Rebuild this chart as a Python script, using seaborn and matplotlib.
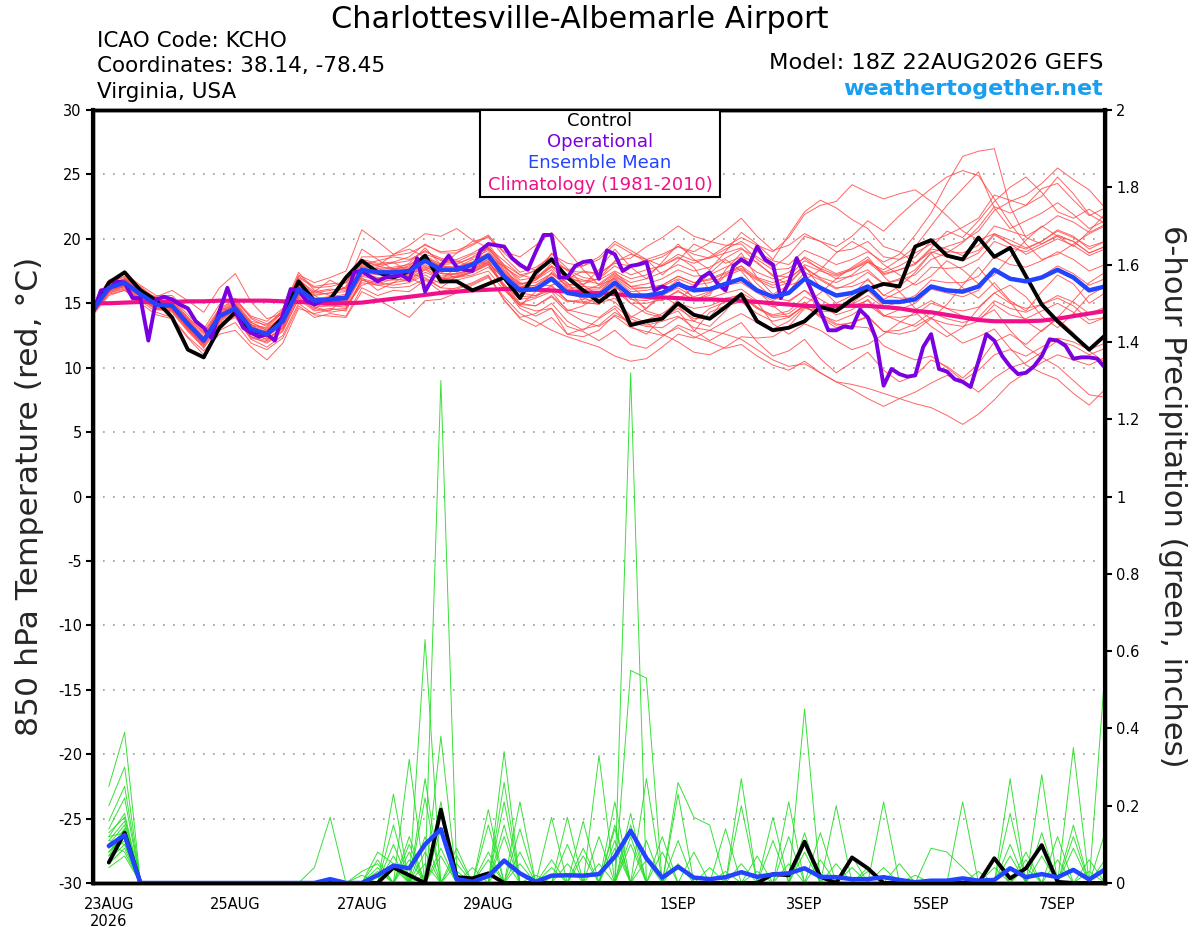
import numpy as np
import pandas as pd
import matplotlib
matplotlib.use("Agg")
import matplotlib.pyplot as plt
import seaborn as sns
from matplotlib.patches import Rectangle

# ---------------- data ----------------
t_start = "2026-08-22 18:00"
p_start = "2026-08-23 00:00"

ens_mean = [14.5, 16.2, 16.6, 15.7, 14.9, 14.8, 13.4, 12.1, 14.0, 14.6, 13.0, 12.6, 13.6,
            16.1, 15.2, 15.3, 15.4, 17.6, 17.4, 17.4, 17.5, 18.3, 17.6, 17.6, 18.0, 18.7,
            17.1, 16.0, 16.1, 16.9, 15.8, 15.6, 15.6, 16.6, 15.6, 15.6, 15.8, 16.5, 16.0,
            16.1, 16.5, 16.9, 16.0, 15.5, 15.8, 16.9, 16.2, 15.6, 15.8, 16.3, 15.1, 15.1,
            15.3, 16.3, 16.0, 15.9, 16.3, 17.6, 16.9, 16.7, 17.0, 17.6, 17.0, 16.0, 16.3]

control = [14.4, 16.6, 17.4, 16.0, 15.2, 13.9, 11.4, 10.8, 13.1, 14.3, 12.9, 12.6, 13.9,
           16.7, 15.2, 15.3, 17.0, 18.3, 17.4, 17.0, 17.5, 18.7, 16.7, 16.7, 16.0, 16.5,
           17.0, 15.4, 17.4, 18.4, 17.0, 16.0, 15.1, 16.0, 13.3, 13.6, 13.8, 15.0, 14.1,
           13.8, 14.7, 15.7, 13.6, 12.9, 13.1, 13.6, 14.7, 14.4, 15.3, 16.1, 16.5, 16.3,
           19.4, 19.9, 18.7, 18.4, 20.1, 18.6, 19.3, 17.1, 14.9, 13.6, 12.5, 11.4, 12.5]

# operational run, 3-hourly
operational = [14.3, 16.0, 16.1, 16.7, 16.6, 15.4, 15.4, 12.1, 15.3, 15.5, 15.3, 14.9, 14.6,
               13.6, 13.1, 12.3, 14.4, 16.2, 14.4, 13.1, 12.7, 12.4, 12.6, 12.1, 14.1, 16.1,
               16.0, 15.2, 14.9, 15.2, 15.3, 15.4, 15.4, 17.4, 17.5, 17.1, 16.7, 17.0, 17.1,
               17.2, 16.8, 18.5, 15.9, 17.0, 17.9, 18.7, 17.8, 17.6, 17.5, 19.1, 19.6, 19.5,
               19.4, 18.5, 18.0, 17.6, 19.0, 20.3, 20.3, 17.0, 17.0, 17.9, 18.2, 18.3, 16.9,
               19.1, 18.8, 17.5, 17.9, 18.0, 18.2, 16.0, 16.3, 16.1, 16.5, 16.2, 16.2, 17.0,
               17.4, 16.5, 16.0, 17.9, 18.4, 18.0, 19.4, 18.4, 18.0, 15.4, 16.6, 18.5, 17.2,
               15.8, 14.4, 12.9, 12.9, 13.2, 13.1, 14.5, 13.9, 12.3, 8.6, 9.9, 9.5, 9.3,
               9.4, 11.6, 12.6, 9.9, 9.7, 9.1, 8.9, 8.5, 10.5, 12.6, 12.1, 10.9, 10.1,
               9.5, 9.6, 10.1, 10.9, 12.2, 12.1, 11.7, 10.7, 10.8, 10.8, 10.7, 10.0]

climatology = [15.0, 15.0, 15.05, 15.1, 15.1, 15.1, 15.15, 15.15, 15.2, 15.2, 15.2, 15.2, 15.15,
               15.1, 15.05, 15.0, 15.0, 15.05, 15.2, 15.35, 15.5, 15.65, 15.8, 15.9, 16.0, 16.05,
               16.1, 16.1, 16.05, 16.0, 15.9, 15.85, 15.8, 15.7, 15.6, 15.5, 15.45, 15.4, 15.3,
               15.3, 15.25, 15.2, 15.1, 15.0, 14.9, 14.8, 14.75, 14.8, 14.8, 14.8, 14.7, 14.6,
               14.4, 14.3, 14.1, 13.9, 13.7, 13.6, 13.6, 13.6, 13.65, 13.8, 14.0, 14.2, 14.4]

t_m01 = [14.8, 16.5, 16.9, 16.0, 15.3, 15.2, 13.8, 12.4, 14.3, 15.0, 13.5, 13.0, 14.0,
         16.5, 15.8, 16.0, 16.2, 18.0, 18.3, 18.6, 18.4, 19.0, 18.5, 18.2, 18.8, 19.2,
         18.0, 17.2, 17.5, 18.3, 17.6, 17.0, 16.8, 17.5, 16.9, 17.2, 18.0, 18.8, 18.3,
         18.5, 19.2, 19.8, 19.0, 18.3, 18.0, 19.1, 18.6, 18.0, 18.4, 19.0, 18.2, 18.8,
         20.3, 22.0, 24.3, 26.4, 26.8, 27.0, 22.5, 20.1, 19.6, 20.2, 19.8, 18.9, 19.4]
t_m02 = [14.2, 15.9, 16.3, 15.5, 14.6, 14.3, 12.8, 11.6, 13.4, 14.1, 12.4, 11.9, 12.8,
         15.4, 14.6, 14.3, 14.5, 16.8, 16.5, 16.9, 16.7, 17.4, 16.9, 17.0, 17.2, 17.8,
         16.5, 15.0, 14.8, 15.5, 14.3, 13.6, 13.2, 14.0, 13.1, 12.8, 12.5, 13.1, 12.4,
         12.0, 11.5, 11.8, 10.9, 10.2, 9.8, 10.5, 9.6, 8.9, 8.7, 8.4, 8.0, 7.6,
         7.2, 6.9, 6.3, 5.6, 6.4, 7.5, 8.8, 9.6, 10.4, 11.0, 10.6, 10.2, 10.8]
t_m03 = [14.6, 16.4, 16.8, 15.9, 15.0, 15.0, 13.7, 12.3, 14.4, 15.1, 13.6, 13.3, 14.4,
         17.0, 16.2, 16.3, 16.6, 18.4, 18.1, 18.2, 18.6, 19.6, 18.9, 18.9, 19.5, 20.2,
         18.6, 17.4, 17.8, 18.6, 17.5, 17.4, 17.3, 18.1, 17.9, 18.4, 18.8, 19.4, 19.0,
         19.7, 20.6, 21.6, 20.2, 19.1, 19.5, 20.4, 19.8, 19.0, 19.2, 19.8, 18.6, 18.4,
         18.9, 19.6, 19.2, 18.7, 19.1, 20.4, 19.9, 19.3, 19.8, 20.6, 20.1, 19.4, 19.8]
t_m04 = [14.4, 16.0, 16.4, 15.6, 14.8, 14.6, 13.2, 11.9, 13.8, 14.4, 12.8, 12.4, 13.3,
         15.7, 15.0, 15.1, 15.0, 17.2, 16.9, 17.0, 17.1, 17.8, 17.3, 17.2, 17.6, 18.2,
         16.8, 15.5, 15.6, 16.4, 15.2, 15.1, 15.4, 16.3, 15.3, 15.2, 15.6, 16.2, 15.5,
         15.9, 16.4, 16.6, 15.8, 15.2, 15.9, 17.4, 16.8, 16.1, 16.6, 17.4, 16.5, 16.9,
         17.6, 18.9, 19.4, 19.8, 20.6, 22.2, 22.9, 23.4, 24.3, 25.5, 24.6, 23.8, 22.4]
t_m05 = [14.3, 15.8, 16.2, 15.3, 14.5, 14.4, 12.9, 11.7, 13.5, 14.0, 12.3, 12.0, 12.9,
         15.3, 14.4, 14.6, 14.4, 16.9, 16.6, 16.4, 16.6, 17.2, 16.5, 16.8, 17.1, 17.5,
         16.0, 14.9, 14.8, 15.6, 14.5, 14.2, 13.9, 14.8, 13.8, 13.3, 13.6, 14.0, 13.1,
         12.9, 12.6, 12.2, 11.4, 10.6, 10.1, 10.3, 9.6, 8.9, 8.3, 7.6, 7.0, 7.6,
         8.1, 8.8, 9.4, 9.0, 9.8, 11.0, 11.4, 10.9, 11.6, 12.3, 12.0, 11.4, 11.9]
t_m06 = [14.7, 16.6, 17.1, 16.1, 15.4, 15.3, 13.9, 12.6, 14.5, 15.2, 13.9, 13.4, 14.2,
         16.8, 15.9, 16.1, 16.0, 18.2, 18.0, 18.1, 18.3, 19.1, 18.3, 18.4, 18.9, 19.6,
         17.9, 16.8, 17.0, 17.9, 16.9, 16.7, 16.9, 17.9, 17.2, 17.6, 17.9, 18.5, 18.1,
         18.6, 19.4, 20.1, 19.5, 19.0, 20.1, 21.9, 22.6, 22.9, 24.2, 23.6, 23.1, 23.5,
         23.8, 22.9, 21.8, 20.6, 19.9, 20.4, 19.6, 18.8, 19.4, 20.0, 19.5, 18.7, 19.2]
t_m07 = [14.5, 16.1, 16.5, 15.6, 14.7, 14.6, 13.1, 11.8, 13.7, 14.3, 12.7, 12.2, 13.1,
         15.8, 14.8, 15.0, 15.1, 17.3, 17.0, 16.9, 17.2, 17.9, 17.1, 17.3, 17.6, 18.3,
         16.2, 14.6, 14.0, 14.6, 13.2, 12.8, 12.1, 12.9, 11.8, 11.5, 12.4, 13.3, 12.8,
         14.3, 14.8, 15.1, 14.2, 13.6, 13.9, 14.8, 13.9, 13.1, 13.5, 14.0, 12.8, 12.6,
         12.9, 13.8, 13.4, 13.2, 13.6, 14.9, 14.1, 13.8, 14.4, 15.0, 14.3, 13.4, 13.9]
t_m08 = [14.6, 16.3, 16.8, 15.8, 15.1, 15.0, 13.6, 12.2, 14.2, 14.9, 13.3, 12.9, 14.1,
         17.2, 16.6, 17.0, 17.5, 20.7, 19.8, 18.8, 19.5, 20.4, 20.2, 20.8, 19.9, 19.3,
         18.3, 17.2, 16.9, 17.8, 16.5, 16.3, 16.2, 17.2, 16.3, 16.5, 16.9, 17.6, 17.1,
         17.2, 17.8, 18.3, 17.4, 16.9, 17.4, 18.6, 17.9, 17.3, 17.7, 18.4, 17.3, 17.6,
         18.1, 19.0, 18.6, 18.3, 18.9, 20.3, 19.6, 19.2, 19.8, 20.7, 20.2, 19.2, 19.8]
t_m09 = [14.3, 15.9, 16.4, 15.5, 14.7, 14.5, 13.0, 11.5, 13.3, 13.9, 12.2, 11.6, 12.5,
         15.0, 14.1, 14.0, 13.9, 15.9, 15.3, 14.6, 13.9, 15.2, 15.3, 15.8, 16.4, 17.0,
         15.5, 14.2, 13.6, 12.9, 12.4, 12.0, 11.6, 10.9, 10.5, 10.7, 11.6, 12.6, 12.3,
         12.9, 13.6, 14.2, 13.5, 13.0, 13.6, 14.7, 14.1, 13.6, 14.1, 14.9, 14.0, 14.5,
         15.0, 16.1, 15.8, 15.5, 16.0, 17.5, 17.0, 16.6, 17.1, 17.9, 17.3, 16.4, 16.9]
t_m10 = [14.6, 16.4, 16.7, 15.9, 15.5, 16.0, 15.2, 14.3, 16.2, 17.3, 15.1, 13.8, 14.2,
         16.4, 15.6, 15.8, 15.9, 17.8, 17.7, 17.8, 18.0, 18.7, 18.0, 18.1, 18.5, 19.1,
         17.5, 16.5, 16.6, 17.3, 16.3, 16.1, 16.1, 17.0, 16.1, 16.2, 16.4, 17.1, 16.6,
         16.8, 17.3, 17.7, 16.9, 16.4, 16.8, 18.0, 17.5, 17.1, 17.6, 18.3, 17.4, 17.9,
         18.6, 19.8, 20.3, 20.9, 21.6, 23.4, 23.0, 22.6, 23.3, 24.8, 23.5, 21.9, 21.2]
t_m11 = [14.2, 15.8, 16.1, 15.2, 14.3, 13.9, 12.4, 11.3, 12.6, 12.9, 11.6, 10.6, 11.9,
         14.6, 14.2, 14.5, 14.6, 16.6, 16.4, 16.6, 16.8, 17.6, 16.9, 17.0, 17.4, 18.0,
         16.4, 15.3, 15.5, 16.3, 15.2, 15.0, 15.0, 16.0, 15.0, 15.0, 15.3, 15.9, 15.3,
         15.4, 15.8, 16.1, 15.2, 14.7, 15.1, 16.0, 15.3, 14.6, 14.8, 15.2, 14.0, 13.9,
         14.1, 15.0, 14.6, 14.4, 14.7, 15.8, 15.0, 14.6, 14.9, 15.4, 14.8, 13.7, 13.9]
t_m12 = [14.5, 16.2, 16.6, 15.7, 14.9, 14.7, 13.3, 12.0, 13.9, 14.5, 12.9, 12.5, 13.5,
         16.0, 15.1, 15.2, 15.3, 17.5, 17.3, 17.3, 17.4, 18.2, 17.5, 17.5, 17.9, 18.6,
         17.3, 16.4, 16.9, 18.1, 17.6, 17.9, 18.6, 19.8, 19.1, 18.4, 17.9, 18.6, 17.8,
         16.0, 16.4, 16.8, 15.9, 15.4, 15.7, 16.8, 16.1, 15.5, 15.7, 16.0, 14.8, 14.6,
         14.5, 15.2, 14.6, 14.0, 13.8, 14.5, 12.9, 11.6, 10.8, 10.1, 9.0, 7.9, 7.7]
t_m13 = [14.7, 16.5, 16.9, 16.0, 15.2, 15.1, 13.7, 12.3, 14.1, 14.8, 13.2, 12.8, 13.8,
         16.3, 15.4, 15.5, 15.7, 17.9, 17.6, 17.7, 17.8, 18.6, 17.9, 17.8, 18.2, 18.9,
         17.4, 16.3, 16.4, 17.1, 16.1, 15.8, 15.9, 16.9, 15.9, 16.0, 16.3, 16.9, 16.4,
         16.6, 17.1, 17.6, 16.8, 16.2, 16.6, 17.7, 17.0, 16.6, 17.2, 18.2, 17.6, 18.4,
         19.4, 21.0, 22.6, 23.9, 25.2, 22.4, 20.8, 21.4, 22.0, 22.8, 21.9, 20.8, 21.4]
t_m14 = [14.4, 16.0, 16.5, 15.6, 14.8, 14.6, 13.2, 11.9, 13.8, 14.4, 12.8, 12.4, 13.4,
         15.9, 15.0, 15.1, 15.2, 17.4, 17.2, 17.1, 17.3, 18.0, 17.3, 17.3, 17.7, 18.4,
         16.2, 14.8, 14.4, 14.6, 12.6, 13.0, 13.3, 14.3, 13.5, 13.7, 14.2, 15.0, 14.6,
         14.8, 15.3, 15.7, 14.7, 14.0, 14.2, 15.1, 14.2, 13.4, 13.2, 13.1, 11.7, 11.1,
         10.6, 10.9, 10.0, 9.0, 8.1, 9.2, 10.0, 10.4, 11.2, 12.1, 11.7, 11.0, 11.5]
t_m15 = [14.6, 16.3, 16.7, 15.8, 15.0, 14.9, 13.5, 12.2, 14.1, 14.7, 13.1, 12.7, 13.7,
         16.2, 15.3, 15.4, 15.5, 17.7, 17.5, 17.5, 17.6, 18.4, 17.7, 17.7, 18.1, 18.8,
         17.2, 16.2, 16.4, 17.3, 16.4, 16.5, 16.9, 18.3, 18.5, 19.4, 20.1, 21.0, 20.2,
         19.8, 19.5, 19.6, 18.4, 17.6, 17.7, 18.5, 17.6, 16.9, 17.1, 17.6, 16.5, 16.8,
         17.2, 18.4, 18.9, 19.7, 20.9, 22.5, 22.0, 22.6, 23.9, 24.3, 23.0, 21.8, 22.4]
t_m16 = [14.3, 15.9, 16.3, 15.4, 14.6, 14.5, 13.0, 11.8, 13.6, 14.2, 12.6, 12.2, 13.1,
         15.6, 14.7, 14.8, 14.9, 17.1, 16.8, 16.8, 16.9, 17.7, 17.0, 17.1, 17.5, 18.1,
         16.9, 16.2, 16.8, 17.9, 17.2, 16.4, 15.6, 16.4, 15.0, 14.2, 13.9, 14.6, 13.8,
         13.9, 15.4, 15.6, 14.6, 13.9, 14.0, 14.8, 14.0, 13.3, 13.5, 13.9, 12.8, 12.9,
         13.4, 14.3, 13.8, 13.5, 13.9, 15.2, 14.6, 14.3, 14.9, 15.6, 15.1, 14.2, 14.7]
t_m17 = [14.8, 16.7, 17.0, 16.2, 15.4, 15.4, 14.1, 12.8, 14.6, 15.3, 14.0, 13.6, 14.6,
         17.1, 16.3, 16.5, 16.6, 18.6, 18.6, 18.7, 18.9, 19.5, 19.0, 19.1, 19.6, 20.3,
         18.9, 17.8, 17.6, 18.4, 17.2, 16.8, 16.5, 17.4, 16.3, 16.2, 16.4, 17.1, 16.6,
         16.9, 17.4, 17.9, 17.0, 16.6, 17.1, 18.3, 17.7, 17.2, 17.6, 18.2, 17.2, 17.6,
         18.0, 19.2, 19.0, 18.9, 19.5, 21.0, 20.6, 20.2, 20.9, 21.8, 21.3, 20.5, 21.1]
t_m18 = [14.4, 16.1, 16.5, 15.6, 14.8, 14.7, 13.3, 12.0, 13.9, 14.5, 12.9, 12.4, 13.4,
         15.9, 14.9, 14.8, 14.7, 16.8, 16.4, 16.2, 16.3, 16.9, 16.2, 16.1, 16.5, 17.1,
         15.3, 13.8, 13.2, 13.9, 12.6, 12.4, 12.9, 14.1, 13.5, 13.2, 13.1, 13.9, 13.6,
         14.6, 15.1, 15.5, 14.6, 14.1, 14.4, 15.5, 14.9, 14.5, 14.9, 15.6, 14.7, 15.1,
         15.6, 16.8, 16.6, 16.6, 17.1, 18.6, 18.0, 17.8, 18.3, 19.0, 18.4, 17.5, 18.0]
t_m19 = [14.5, 16.2, 16.6, 15.7, 14.9, 14.8, 13.4, 12.1, 14.0, 14.6, 13.0, 12.6, 13.6,
         16.1, 15.2, 15.3, 15.4, 17.6, 17.4, 17.4, 17.5, 18.3, 17.6, 17.6, 18.0, 18.7,
         17.1, 16.0, 16.1, 16.9, 15.8, 15.4, 15.0, 15.4, 14.0, 13.5, 12.6, 12.0, 11.2,
         11.0, 11.6, 12.4, 12.3, 12.4, 13.2, 14.6, 14.4, 14.3, 15.0, 16.0, 15.3, 15.9,
         16.6, 17.8, 17.7, 17.8, 18.4, 19.8, 19.3, 19.0, 19.6, 20.3, 19.8, 18.9, 19.4]
t_m20 = [14.6, 16.3, 16.7, 15.8, 15.0, 14.9, 13.5, 12.2, 14.1, 14.7, 13.1, 12.7, 13.7,
         16.3, 15.3, 15.4, 15.6, 17.7, 17.5, 17.6, 17.7, 18.5, 17.8, 17.8, 18.2, 18.9,
         17.8, 17.0, 17.6, 18.8, 18.1, 17.9, 18.4, 19.6, 18.9, 18.2, 18.6, 19.4, 18.8,
         18.5, 18.9, 19.3, 18.1, 17.2, 17.0, 17.8, 16.9, 16.2, 16.3, 16.8, 15.6, 15.4,
         15.4, 16.4, 16.1, 16.0, 16.4, 17.7, 17.0, 16.8, 17.1, 17.7, 17.1, 16.1, 16.4]
t_m21 = [14.9, 16.8, 17.3, 16.4, 15.6, 15.6, 14.4, 13.0, 14.9, 15.4, 13.8, 13.2, 14.5,
         17.4, 16.0, 15.6, 16.3, 19.2, 18.4, 17.6, 18.1, 19.3, 18.0, 17.4, 17.9, 19.4,
         17.8, 16.1, 17.0, 18.9, 17.7, 16.4, 17.6, 19.2, 17.8, 16.9, 18.2, 19.6, 18.4,
         17.6, 19.0, 20.5, 19.6, 18.4, 20.3, 22.1, 23.0, 22.4, 21.5, 20.8, 19.4, 19.0,
         18.1, 19.3, 20.6, 20.1, 21.4, 22.9, 24.0, 24.8, 23.6, 22.1, 21.6, 22.3, 21.5]
t_m22 = [14.1, 15.6, 16.0, 15.0, 14.1, 13.8, 12.3, 11.0, 12.9, 13.5, 11.9, 11.4, 12.3,
         14.8, 13.9, 14.2, 14.0, 16.2, 15.6, 16.0, 15.9, 16.8, 15.9, 16.2, 16.6, 17.2,
         15.2, 13.9, 14.2, 15.0, 13.6, 12.9, 13.8, 14.6, 13.2, 12.6, 13.9, 14.4, 12.9,
         12.1, 12.8, 13.5, 12.0, 10.9, 11.3, 12.2, 10.7, 9.6, 10.4, 11.2, 9.8, 8.9,
         9.4, 10.6, 10.1, 9.2, 10.3, 12.0, 12.6, 11.8, 12.9, 13.8, 12.7, 11.3, 10.4]
t_m23 = [14.6, 16.2, 16.9, 16.2, 15.2, 14.7, 13.0, 11.8, 13.9, 14.9, 13.4, 12.3, 13.0,
         15.6, 15.9, 16.8, 16.1, 17.9, 17.9, 18.8, 19.2, 18.6, 17.8, 18.9, 19.8, 20.1,
         19.0, 18.6, 19.5, 20.5, 19.1, 17.6, 16.4, 16.9, 15.4, 14.6, 15.9, 16.8, 15.3,
         15.6, 17.6, 18.9, 17.0, 15.7, 16.4, 17.9, 16.2, 15.0, 15.6, 16.9, 15.6, 16.3,
         17.4, 18.9, 17.3, 16.2, 15.4, 16.6, 15.2, 14.4, 15.9, 17.2, 16.5, 15.0, 15.8]
t_m24 = [14.2, 15.7, 16.0, 15.4, 14.5, 14.9, 13.6, 12.4, 14.3, 14.3, 12.6, 12.9, 14.0,
         16.6, 14.7, 14.4, 15.6, 17.0, 16.0, 16.6, 17.3, 17.0, 16.2, 17.1, 17.4, 18.0,
         16.3, 14.8, 15.9, 17.4, 16.6, 15.1, 14.9, 16.2, 15.8, 14.4, 14.0, 15.3, 16.2,
         17.3, 18.4, 17.5, 16.0, 14.8, 13.9, 14.9, 15.8, 16.9, 17.8, 18.6, 17.1, 15.9,
         14.6, 13.8, 14.9, 16.4, 17.8, 16.3, 15.1, 13.6, 12.8, 13.9, 15.2, 16.6, 17.4]
t_m25 = [14.7, 16.4, 16.6, 15.5, 14.6, 14.4, 13.2, 12.0, 14.2, 14.8, 13.2, 12.6, 13.8,
         16.6, 15.0, 14.9, 15.2, 17.4, 16.9, 17.1, 17.6, 18.6, 17.4, 17.0, 17.4, 18.2,
         16.9, 15.8, 15.6, 16.0, 15.1, 15.3, 15.8, 17.1, 16.3, 15.4, 15.2, 16.0, 15.2,
         15.8, 17.2, 17.9, 16.5, 15.4, 15.2, 16.0, 14.9, 14.1, 14.5, 15.3, 14.1, 13.6,
         13.2, 13.9, 12.8, 11.9, 12.4, 13.0, 11.5, 10.2, 9.6, 9.1, 8.0, 7.1, 8.3]
t_m26 = [14.5, 16.0, 16.9, 16.3, 15.3, 14.6, 13.0, 12.3, 14.6, 14.4, 12.4, 12.1, 13.2,
         16.4, 15.6, 15.0, 15.3, 17.3, 17.8, 18.2, 17.4, 17.6, 18.1, 18.3, 17.8, 18.4,
         17.9, 16.6, 16.3, 16.4, 16.9, 17.5, 17.3, 18.2, 18.8, 18.4, 17.2, 18.3, 19.6,
         19.0, 18.1, 18.6, 18.2, 17.1, 16.4, 16.8, 17.6, 18.9, 19.8, 19.1, 18.0, 17.2,
         16.4, 17.1, 18.3, 17.6, 16.5, 17.2, 18.6, 19.9, 21.0, 20.2, 19.4, 20.6, 21.9]
t_m27 = [14.3, 16.1, 16.3, 15.2, 15.0, 15.1, 13.5, 12.0, 13.6, 14.7, 13.5, 12.9, 13.6,
         15.5, 14.5, 15.6, 14.8, 16.4, 16.8, 17.7, 17.0, 16.4, 16.8, 17.8, 18.4, 18.0,
         16.2, 15.0, 15.4, 15.9, 14.4, 14.8, 15.6, 15.1, 13.9, 14.6, 15.6, 14.8, 13.6,
         13.2, 14.4, 15.8, 15.1, 13.4, 12.6, 13.4, 12.9, 12.1, 11.4, 11.8, 12.6, 13.5,
         14.3, 13.2, 12.4, 13.1, 14.6, 15.8, 16.4, 15.5, 14.0, 13.1, 14.2, 15.6, 16.3]
t_m28 = [14.8, 16.6, 16.8, 15.9, 15.1, 15.0, 13.9, 12.7, 14.4, 14.9, 13.3, 13.1, 14.3,
         16.9, 15.7, 15.8, 16.2, 18.3, 17.9, 17.6, 17.9, 18.8, 18.4, 18.0, 18.6, 19.3,
         17.6, 16.5, 16.8, 17.6, 16.2, 16.0, 16.4, 17.3, 16.6, 16.9, 17.4, 18.0, 17.5,
         17.8, 18.5, 19.2, 18.6, 17.8, 18.7, 20.2, 19.8, 19.4, 20.2, 21.4, 20.6, 21.8,
         22.9, 23.9, 24.8, 25.3, 24.9, 23.1, 21.2, 19.6, 18.4, 18.8, 19.6, 20.4, 21.0]

# 6-hour precipitation (inches), 64 steps from 23AUG 00Z
p_mean = [0.096, 0.124, 0, 0, 0, 0, 0, 0, 0, 0, 0, 0, 0, 0, 0.01, 0,
          0, 0.02, 0.045, 0.038, 0.10, 0.139, 0.01, 0.003, 0.018, 0.058, 0.025, 0.003, 0.019, 0.02, 0.019, 0.023,
          0.068, 0.135, 0.064, 0.014, 0.042, 0.014, 0.01, 0.015, 0.028, 0.016, 0.022, 0.025, 0.038, 0.016, 0.015, 0.01,
          0.01, 0.015, 0.008, 0.002, 0.006, 0.006, 0.012, 0.006, 0.008, 0.038, 0.015, 0.023, 0.015, 0.034, 0.009, 0.035]
p_control = [0.053, 0.13, 0, 0, 0, 0, 0, 0, 0, 0, 0, 0, 0, 0, 0, 0,
             0, 0, 0.04, 0.02, 0, 0.19, 0.015, 0.012, 0.025, 0, 0, 0, 0, 0, 0, 0,
             0, 0, 0, 0, 0, 0, 0, 0, 0, 0, 0.023, 0.02, 0.107, 0.016, 0, 0.066,
             0.038, 0, 0, 0, 0, 0, 0, 0, 0.064, 0.012, 0.038, 0.098, 0.003, 0, 0, 0]

# ensemble members: {6-hour step index: amount}, all other steps are zero
p_m01 = {0: 0.25, 1: 0.39, 13: 0.04, 14: 0.17, 18: 0.23, 20: 0.08, 24: 0.06, 28: 0.04, 33: 0.12, 42: 0.11, 50: 0.05, 57: 0.07}
p_m02 = {0: 0.20, 1: 0.30, 16: 0.03, 17: 0.05, 19: 0.10, 23: 0.04, 29: 0.17, 34: 0.11, 43: 0.12, 55: 0.03, 61: 0.09}
p_m03 = {0: 0.16, 1: 0.25, 16: 0.02, 18: 0.15, 20: 0.27, 22: 0.05, 26: 0.14, 32: 0.15, 40: 0.20, 49: 0.04, 59: 0.13}
p_m04 = {0: 0.14, 1: 0.22, 17: 0.08, 18: 0.05, 21: 0.21, 27: 0.02, 33: 0.18, 41: 0.07, 51: 0.02, 61: 0.12}
p_m05 = {0: 0.12, 1: 0.18, 17: 0.06, 19: 0.12, 24: 0.19, 30: 0.07, 35: 0.08, 44: 0.45, 57: 0.10}
p_m06 = {0: 0.11, 1: 0.16, 17: 0.04, 19: 0.08, 21: 0.09, 25: 0.34, 31: 0.05, 36: 0.23, 44: 0.10, 56: 0.04, 63: 0.13}
p_m07 = {0: 0.10, 1: 0.15, 17: 0.03, 20: 0.12, 25: 0.15, 33: 0.15, 42: 0.17, 54: 0.21, 62: 0.06}
p_m08 = {0: 0.09, 1: 0.14, 18: 0.10, 20: 0.05, 25: 0.06, 31: 0.12, 36: 0.05, 45: 0.13, 58: 0.08}
p_m09 = {0: 0.08, 1: 0.13, 18: 0.07, 21: 0.18, 26: 0.21, 32: 0.14, 38: 0.04, 46: 0.20, 58: 0.06}
p_m10 = {0: 0.08, 1: 0.12, 18: 0.04, 21: 0.14, 26: 0.05, 32: 0.11, 39: 0.03, 47: 0.07, 59: 0.07}
p_m11 = {0: 0.07, 1: 0.11, 19: 0.32, 22: 0.09, 29: 0.10, 35: 0.12, 43: 0.05, 52: 0.09, 53: 0.08, 54: 0.04, 62: 0.03}
p_m12 = {0: 0.06, 1: 0.10, 19: 0.06, 24: 0.15, 30: 0.16, 36: 0.26, 37: 0.17, 38: 0.15, 47: 0.04, 60: 0.12, 63: 0.06}
p_m13 = {0: 0.05, 1: 0.09, 20: 0.63, 25: 0.21, 31: 0.33, 36: 0.11, 44: 0.13, 57: 0.27}
p_m14 = {0: 0.10, 1: 0.08, 20: 0.22, 25: 0.12, 32: 0.21, 37: 0.08, 45: 0.06, 57: 0.18}
p_m15 = {0: 0.13, 1: 0.17, 20: 0.02, 21: 1.30, 22: 0.03, 32: 0.09, 39: 0.14, 46: 0.05, 58: 0.04}
p_m16 = {0: 0.09, 1: 0.12, 21: 0.38, 26: 0.08, 33: 1.32, 40: 0.27, 48: 0.04, 61: 0.35}
p_m17 = {0: 0.07, 1: 0.14, 21: 0.07, 28: 0.17, 33: 0.55, 34: 0.53, 44: 0.08, 59: 0.28}
p_m18 = {0: 0.11, 1: 0.10, 22: 0.07, 28: 0.06, 33: 0.10, 43: 0.21, 56: 0.06, 63: 0.55}
p_m19 = {0: 0.04, 1: 0.07, 24: 0.08, 29: 0.05, 34: 0.27, 40: 0.05, 48: 0.03, 60: 0.06}
p_m20 = {0: 0.12, 1: 0.13, 25: 0.26, 30: 0.09, 34: 0.06, 41: 0.03, 49: 0.21, 61: 0.15}

tick_dates = ["2026-08-23", "2026-08-25", "2026-08-27", "2026-08-29",
              "2026-09-01", "2026-09-03", "2026-09-05", "2026-09-07"]
tick_labels = ["23AUG\n2026", "25AUG", "27AUG", "29AUG", "1SEP", "3SEP", "5SEP", "7SEP"]

# ---------------- frames ----------------
times6 = pd.date_range(t_start, periods=len(ens_mean), freq="6h")
times3 = pd.date_range(t_start, periods=len(operational), freq="3h")
ptimes = pd.date_range(p_start, periods=len(p_mean), freq="6h")

t_members = [t_m01, t_m02, t_m03, t_m04, t_m05, t_m06, t_m07, t_m08, t_m09, t_m10,
             t_m11, t_m12, t_m13, t_m14, t_m15, t_m16, t_m17, t_m18, t_m19, t_m20,
             t_m21, t_m22, t_m23, t_m24, t_m25, t_m26, t_m27, t_m28]
p_members = [p_m01, p_m02, p_m03, p_m04, p_m05, p_m06, p_m07, p_m08, p_m09, p_m10,
             p_m11, p_m12, p_m13, p_m14, p_m15, p_m16, p_m17, p_m18, p_m19, p_m20]

df_t = pd.concat([pd.DataFrame({"time": times6, "temp": m, "member": n})
                  for n, m in enumerate(t_members)], ignore_index=True)
p_rows = []
for n, d in enumerate(p_members):
    vals = [d.get(k, 0.0) for k in range(len(ptimes))]
    p_rows.append(pd.DataFrame({"time": ptimes, "prcp": vals, "member": n}))
df_p = pd.concat(p_rows, ignore_index=True)

# ---------------- plot ----------------
sns.set_theme(style="white")
plt.rcParams["font.family"] = ["DejaVu Sans"]

fig = plt.figure(figsize=(12, 9.27), dpi=100)
ax = fig.add_axes([93 / 1200, 1 - 883 / 927, (1105 - 93) / 1200, (883 - 110) / 927])
ax2 = ax.twinx()

RED = "#ff4a4a"
GREEN = "#22dd22"
PURPLE = "#7a00e0"
BLUE = "#2244ff"
PINK = "#f0108a"

sns.lineplot(data=df_t, x="time", y="temp", units="member", estimator=None,
             color=RED, lw=0.7, alpha=0.85, ax=ax, legend=False)
sns.lineplot(x=times6, y=climatology, color=PINK, lw=3.0, ax=ax)
sns.lineplot(x=times6, y=control, color="black", lw=2.8, ax=ax)
sns.lineplot(x=times3, y=operational, color=PURPLE, lw=2.8, ax=ax)
sns.lineplot(x=times6, y=ens_mean, color=BLUE, lw=3.2, ax=ax)

sns.lineplot(data=df_p, x="time", y="prcp", units="member", estimator=None,
             color=GREEN, lw=0.7, alpha=0.9, ax=ax2, legend=False)
sns.lineplot(x=ptimes, y=p_control, color="black", lw=2.8, ax=ax2)
sns.lineplot(x=ptimes, y=p_mean, color=BLUE, lw=3.2, ax=ax2)

ax.set_xlim(times6[0], times6[-1])
ax.set_ylim(-30, 30)
ax2.set_ylim(0, 2)

ax.set_yticks(list(range(-30, 31, 5)))
ax.set_yticklabels([str(v) for v in range(-30, 31, 5)])
rticks = [round(0.2 * k, 1) for k in range(11)]
ax2.set_yticks(rticks)
ax2.set_yticklabels([f"{v:g}" for v in rticks])

ax.set_xticks([pd.Timestamp(d) for d in tick_dates])
ax.set_xticklabels(tick_labels)

ax.set_xlabel("")
ax.set_ylabel("")
ax2.set_ylabel("")
ax2.set_xlabel("")

ax.yaxis.grid(True, linestyle=(0, (1, 5)), color="#999999", lw=1.2)
ax.xaxis.grid(False)
ax2.grid(False)

ax.tick_params(axis="y", left=True, direction="out", length=5, width=1.5,
               labelsize=10.5, colors="black", pad=3)
ax.tick_params(axis="x", bottom=False, labelsize=10.5, colors="black", pad=4)
ax2.tick_params(axis="y", right=True, direction="out", length=5, width=1.5,
                labelsize=10.5, colors="black", pad=3)

for a in (ax, ax2):
    for s in a.spines.values():
        s.set_color("black")
        s.set_linewidth(2.5)
ax.spines["left"].set_linewidth(3)
ax2.spines["right"].set_linewidth(3)

# titles / annotations
fig.text(580 / 1200, 1 - 19 / 927, "Charlottesville-Albemarle Airport",
         ha="center", va="center", fontsize=21.8, color="black")
for y, s in [(41, "ICAO Code: KCHO"), (66, "Coordinates: 38.14, -78.45"), (92, "Virginia, USA")]:
    fig.text(97 / 1200, 1 - y / 927, s, ha="left", va="center", fontsize=15.5, color="black")
fig.text(1103 / 1200, 1 - 63 / 927, "Model: 18Z 22AUG2026 GEFS",
         ha="right", va="center", fontsize=16.2, color="black")
fig.text(1103 / 1200, 1 - 89 / 927, "weathertogether.net",
         ha="right", va="center", fontsize=16, color="#1a9ff0", fontweight="bold")

fig.text(30 / 1200, 1 - 496 / 927, "850 hPa Temperature (red, °C)",
         rotation=90, ha="center", va="center", fontsize=22.6)
fig.text(1173 / 1200, 1 - 496 / 927, "6-hour Precipitation (green, inches)",
         rotation=270, ha="center", va="center", fontsize=22.1)

# legend box
fig.add_artist(Rectangle((480 / 1200, 1 - 197 / 927), 240 / 1200, 87 / 927,
                         transform=fig.transFigure, facecolor="white",
                         edgecolor="black", lw=1.5, zorder=5))
for y, s, c in [(121, "Control", "black"), (142, "Operational", PURPLE),
                (163, "Ensemble Mean", BLUE), (185, "Climatology (1981-2010)", PINK)]:
    fig.text(600 / 1200, 1 - y / 927, s, ha="center", va="center",
             fontsize=13.0, color=c, zorder=6)

fig.savefig("out.png", dpi=100)
